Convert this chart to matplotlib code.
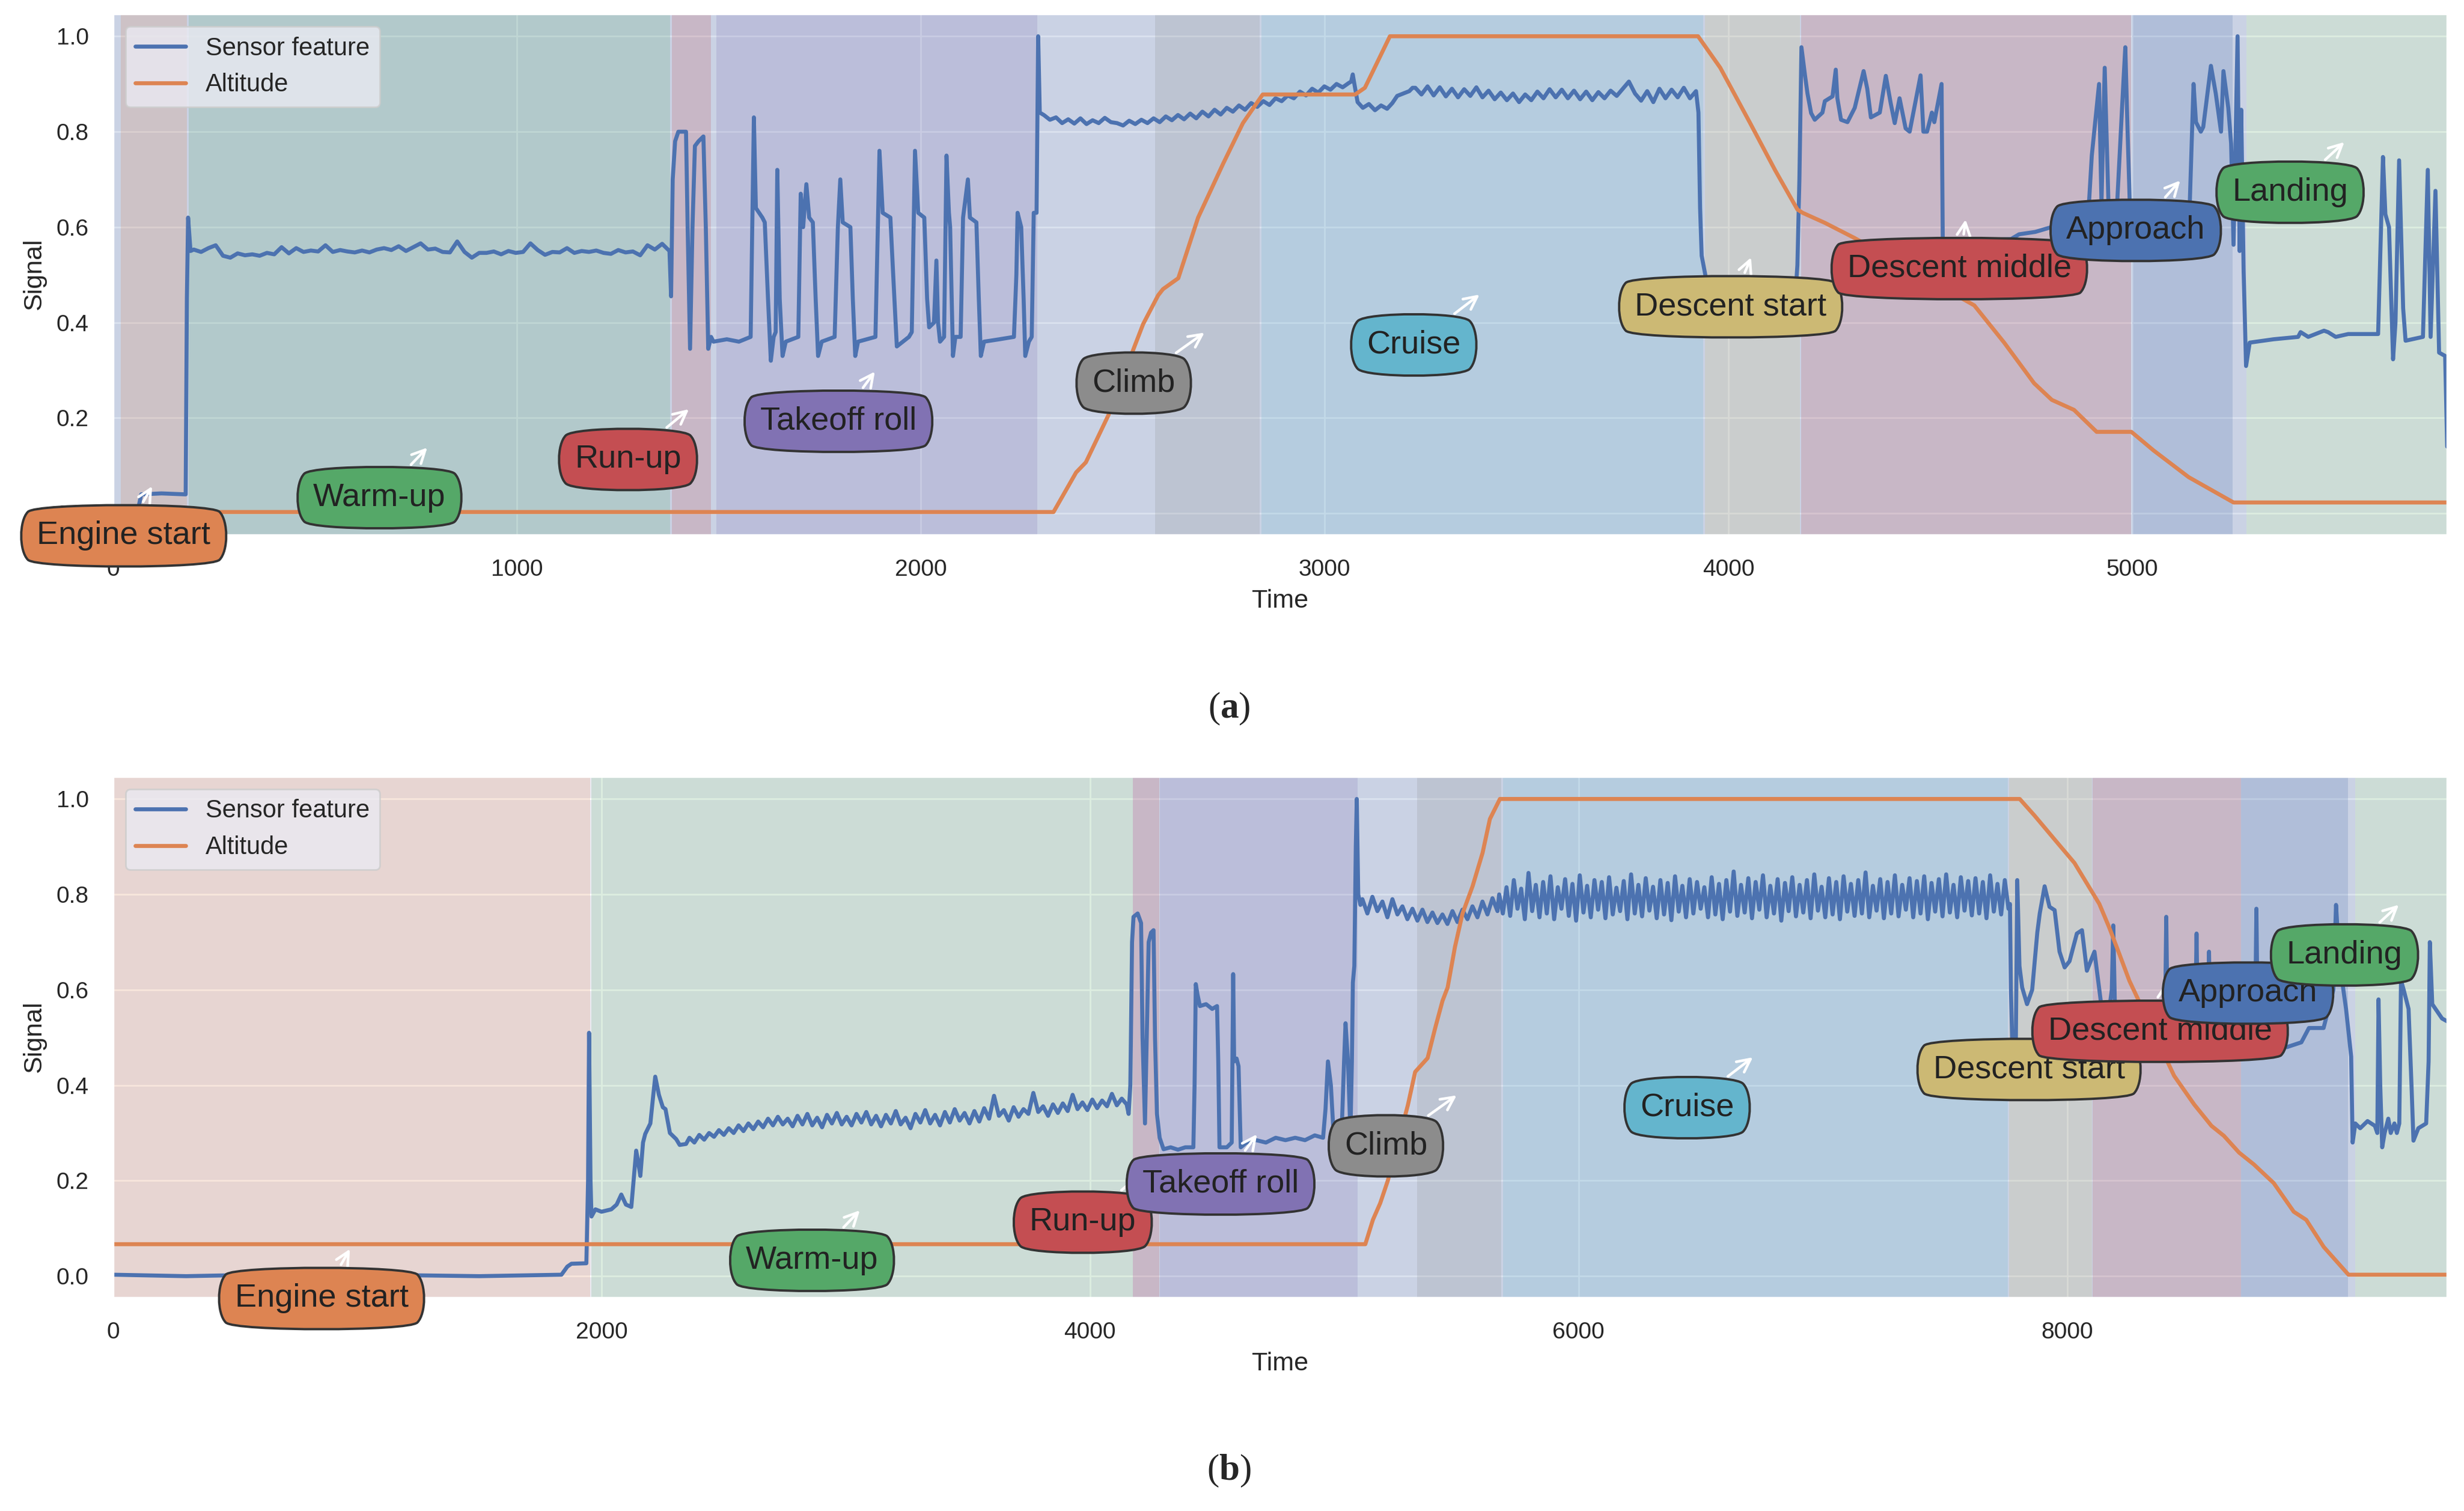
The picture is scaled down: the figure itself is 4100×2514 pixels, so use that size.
import numpy as np
import matplotlib
matplotlib.use('Agg')
import matplotlib.pyplot as plt
import seaborn as sns

##########################################################
#                       Style                            #
##########################################################

sns.set_theme(style='darkgrid')
plt.rcParams['font.family'] = ['Liberation Sans', 'DejaVu Sans']
plt.rcParams['mathtext.fontset'] = 'custom'
plt.rcParams['mathtext.rm'] = 'Liberation Serif'
plt.rcParams['mathtext.bf'] = 'Liberation Serif:bold'

pal = sns.color_palette('deep')

##########################################################
#                   Flight phases                        #
##########################################################

PHASES = ['Engine start', 'Warm-up', 'Run-up', 'Takeoff roll', 'Climb',
          'Cruise', 'Descent start', 'Descent middle', 'Approach', 'Landing']
PHASE_COLORS = [pal[1], pal[2], pal[3], pal[4], pal[7],
                pal[9], pal[8], pal[3], pal[0], pal[2]]

# flight (a)
A_START = [19, 188, 1384, 1494, 2580, 2844, 3942, 4180, 5000, 5283]
A_END = [183, 1380, 1481, 2289, 2839, 3937, 4177, 4997, 5249, 5780]
A_BASE = [0, 5283]
A_XMAX = 5780

# flight (b)
B_START = [0, 1958, 4176, 4287, 5340, 5691, 7763, 8105, 8713, 9180]
B_END = [1954, 4176, 4284, 5096, 5684, 7758, 8103, 8711, 9151, 9556]
B_BASE = [4176, 9180]
B_XMAX = 9556

##########################################################
#                 Sensor feature (a)                     #
##########################################################

a_pre = [(0, 0.0), (60, 0.0), (70, 0.04), (120, 0.042), (180, 0.04),
         (183, 0.45), (186, 0.62), (192, 0.55)]

# warm-up, t 200 -> 1378
a_warm = [0.553, 0.548, 0.556, 0.562, 0.540, 0.536, 0.545, 0.541, 0.543, 0.540,
          0.546, 0.543, 0.558, 0.545, 0.556, 0.548, 0.551, 0.549, 0.562, 0.548,
          0.552, 0.549, 0.547, 0.551, 0.547, 0.553, 0.556, 0.552, 0.560, 0.550,
          0.558, 0.566, 0.553, 0.555, 0.548, 0.547, 0.570, 0.548, 0.536, 0.546,
          0.546, 0.549, 0.543, 0.550, 0.546, 0.548, 0.566, 0.552, 0.542, 0.548,
          0.547, 0.556, 0.546, 0.550, 0.548, 0.551, 0.546, 0.544, 0.552, 0.547,
          0.549, 0.541, 0.562, 0.553, 0.565, 0.550]

a_takeoff = [(1382, 0.455), (1386, 0.70), (1392, 0.78), (1400, 0.80), (1419, 0.80),
             (1423, 0.60), (1429, 0.345), (1435, 0.60), (1441, 0.77), (1450, 0.78),
             (1462, 0.79), (1468, 0.60), (1474, 0.345), (1481, 0.37), (1487, 0.36),
             (1520, 0.365), (1550, 0.36), (1579, 0.37), (1587, 0.83), (1592, 0.64),
             (1608, 0.62), (1614, 0.61), (1622, 0.45), (1629, 0.32), (1636, 0.37),
             (1641, 0.38), (1645, 0.72), (1651, 0.45), (1658, 0.33), (1666, 0.36),
             (1697, 0.37), (1703, 0.67), (1709, 0.60), (1717, 0.69), (1724, 0.62),
             (1733, 0.61), (1740, 0.45), (1746, 0.33), (1755, 0.36), (1787, 0.37),
             (1795, 0.60), (1801, 0.70), (1807, 0.61), (1826, 0.60), (1832, 0.45),
             (1838, 0.33), (1845, 0.36), (1888, 0.37), (1894, 0.60), (1898, 0.76),
             (1906, 0.63), (1925, 0.62), (1932, 0.50), (1941, 0.35), (1971, 0.37),
             (1978, 0.38), (1986, 0.76), (1994, 0.63), (2009, 0.62), (2016, 0.45),
             (2021, 0.39), (2033, 0.40), (2039, 0.53), (2043, 0.40), (2048, 0.36),
             (2058, 0.37), (2064, 0.75), (2070, 0.63), (2073, 0.60), (2080, 0.33),
             (2086, 0.37), (2099, 0.37), (2105, 0.62), (2117, 0.70), (2122, 0.62),
             (2138, 0.61), (2144, 0.45), (2149, 0.33), (2157, 0.36), (2195, 0.365),
             (2231, 0.37), (2237, 0.50), (2240, 0.63), (2249, 0.60), (2255, 0.45),
             (2259, 0.33), (2268, 0.36), (2275, 0.37), (2280, 0.63), (2287, 0.63),
             (2291, 1.0), (2295, 0.84)]

# taxi / climb, t 2305 -> 3060
a_climb = [0.835, 0.825, 0.830, 0.818, 0.826, 0.817, 0.828, 0.816, 0.824, 0.818,
           0.829, 0.820, 0.818, 0.813, 0.823, 0.816, 0.825, 0.818, 0.828, 0.820,
           0.832, 0.824, 0.835, 0.826, 0.838, 0.828, 0.842, 0.832, 0.846, 0.836,
           0.850, 0.842, 0.855, 0.846, 0.860, 0.852, 0.864, 0.856, 0.870, 0.864,
           0.876, 0.870, 0.884, 0.876, 0.890, 0.882, 0.895, 0.888, 0.900, 0.893,
           0.902]

a_level = [(3066, 0.905), (3070, 0.92), (3074, 0.90), (3082, 0.862), (3095, 0.85),
           (3110, 0.858), (3125, 0.845), (3140, 0.855), (3155, 0.848), (3168, 0.86),
           (3180, 0.875), (3195, 0.88), (3210, 0.885), (3218, 0.892)]

# cruise, t 3225 -> 3920
a_cruise = [0.892, 0.878, 0.895, 0.876, 0.893, 0.874, 0.890, 0.872, 0.889, 0.875,
            0.893, 0.872, 0.886, 0.868, 0.882, 0.866, 0.880, 0.862, 0.878, 0.866,
            0.884, 0.870, 0.889, 0.872, 0.888, 0.870, 0.886, 0.868, 0.884, 0.866,
            0.883, 0.870, 0.886, 0.875, 0.890, 0.905, 0.880, 0.865, 0.885, 0.862,
            0.890, 0.870, 0.888, 0.872, 0.892, 0.870, 0.885]

a_descent = [(3926, 0.84), (3930, 0.64), (3934, 0.54), (3943, 0.50), (3950, 0.45),
             (4100, 0.45), (4167, 0.47), (4171, 0.52), (4176, 0.70), (4181, 0.977),
             (4190, 0.917), (4196, 0.88), (4205, 0.839), (4214, 0.825), (4233, 0.84),
             (4239, 0.864), (4258, 0.874), (4266, 0.93), (4270, 0.87), (4279, 0.825),
             (4295, 0.82), (4313, 0.85), (4335, 0.927), (4344, 0.89), (4353, 0.83),
             (4375, 0.84), (4390, 0.917), (4402, 0.86), (4412, 0.818), (4424, 0.87),
             (4439, 0.807), (4449, 0.80), (4476, 0.918), (4483, 0.80), (4492, 0.80),
             (4504, 0.84), (4510, 0.82), (4528, 0.90), (4531, 0.57), (4700, 0.575),
             (4720, 0.585), (4760, 0.59), (4800, 0.60), (4880, 0.60), (4893, 0.65),
             (4900, 0.75), (4918, 0.90), (4924, 0.65), (4932, 0.934), (4942, 0.627),
             (4961, 0.62), (4978, 0.90), (4983, 0.977), (4989, 0.79), (4994, 0.65),
             (4998, 0.57), (5020, 0.56), (5140, 0.58), (5152, 0.90), (5158, 0.82),
             (5170, 0.80), (5176, 0.81), (5195, 0.938), (5207, 0.88), (5220, 0.80),
             (5226, 0.927), (5238, 0.85), (5245, 0.775), (5251, 0.563), (5261, 1.0),
             (5266, 0.55), (5270, 0.846), (5276, 0.507), (5282, 0.309), (5291, 0.358),
             (5350, 0.365), (5411, 0.37), (5417, 0.38), (5436, 0.37), (5475, 0.383),
             (5485, 0.38), (5504, 0.37), (5535, 0.376), (5609, 0.376), (5621, 0.747),
             (5627, 0.627), (5636, 0.60), (5646, 0.323), (5652, 0.40), (5661, 0.74),
             (5671, 0.43), (5677, 0.362), (5720, 0.37), (5732, 0.72), (5739, 0.37),
             (5751, 0.676), (5760, 0.337), (5775, 0.33), (5780, 0.14)]

a_altitude = [(0, 0.003), (2329, 0.003), (2385, 0.086), (2409, 0.107), (2465, 0.206),
              (2530, 0.351), (2551, 0.397), (2588, 0.457), (2600, 0.47), (2638, 0.493),
              (2687, 0.62), (2749, 0.733), (2798, 0.818), (2847, 0.878), (3076, 0.878),
              (3100, 0.892), (3162, 1.0), (3925, 1.0), (3980, 0.934), (4054, 0.818),
              (4116, 0.719), (4171, 0.637), (4184, 0.63), (4239, 0.609), (4313, 0.577),
              (4609, 0.436), (4683, 0.358), (4757, 0.273), (4801, 0.238), (4856, 0.217),
              (4912, 0.171), (4998, 0.171), (5053, 0.132), (5140, 0.076), (5251, 0.023),
              (5780, 0.023)]

##########################################################
#                 Sensor feature (b)                     #
##########################################################

b_pre = [(0, 0.003), (300, 0.0), (600, 0.003), (900, 0.0), (1200, 0.002), (1500, 0.0),
         (1836, 0.003), (1860, 0.02), (1877, 0.026), (1938, 0.027), (1945, 0.2),
         (1949, 0.51), (1955, 0.2), (1959, 0.125), (1975, 0.14), (2000, 0.135),
         (2040, 0.14), (2062, 0.15), (2081, 0.171), (2100, 0.15), (2122, 0.145),
         (2142, 0.263), (2150, 0.24), (2159, 0.21), (2170, 0.28), (2179, 0.298),
         (2200, 0.32), (2212, 0.38), (2220, 0.418), (2235, 0.38), (2251, 0.354),
         (2262, 0.35), (2280, 0.30), (2306, 0.287), (2320, 0.275), (2346, 0.277)]

# warm-up, t 2360 -> 4150
b_warm = [0.290, 0.280, 0.296, 0.286, 0.300, 0.292, 0.306, 0.296, 0.310, 0.300,
          0.316, 0.304, 0.320, 0.308, 0.324, 0.312, 0.330, 0.316, 0.334, 0.318,
          0.330, 0.314, 0.336, 0.318, 0.340, 0.316, 0.332, 0.312, 0.338, 0.320,
          0.342, 0.318, 0.334, 0.316, 0.340, 0.322, 0.344, 0.318, 0.336, 0.314,
          0.338, 0.320, 0.346, 0.318, 0.332, 0.310, 0.340, 0.322, 0.348, 0.320,
          0.338, 0.316, 0.344, 0.322, 0.350, 0.326, 0.342, 0.320, 0.346, 0.324,
          0.352, 0.330, 0.378, 0.336, 0.348, 0.326, 0.354, 0.334, 0.350, 0.340,
          0.384, 0.344, 0.356, 0.336, 0.360, 0.342, 0.362, 0.346, 0.380, 0.350,
          0.364, 0.348, 0.370, 0.352, 0.368, 0.356, 0.382, 0.358, 0.372, 0.360]

b_takeoff = [(4158, 0.34), (4165, 0.40), (4172, 0.70), (4178, 0.753), (4195, 0.76),
             (4209, 0.74), (4215, 0.50), (4225, 0.32), (4232, 0.50), (4240, 0.70),
             (4250, 0.72), (4260, 0.725), (4266, 0.50), (4274, 0.34), (4285, 0.29),
             (4301, 0.266), (4330, 0.27), (4360, 0.265), (4390, 0.27), (4423, 0.27),
             (4428, 0.40), (4433, 0.612), (4440, 0.59), (4450, 0.566), (4475, 0.57),
             (4500, 0.56), (4520, 0.566), (4525, 0.45), (4530, 0.27), (4560, 0.27),
             (4580, 0.28), (4586, 0.633), (4590, 0.45), (4600, 0.456), (4608, 0.44),
             (4617, 0.27), (4640, 0.28), (4680, 0.285), (4720, 0.28), (4760, 0.29),
             (4800, 0.285), (4840, 0.29), (4880, 0.285), (4920, 0.295), (4954, 0.29),
             (4964, 0.35), (4974, 0.45), (4986, 0.40), (4998, 0.29), (5030, 0.30),
             (5040, 0.45), (5046, 0.53), (5056, 0.45), (5066, 0.30), (5072, 0.45),
             (5076, 0.615), (5082, 0.65), (5088, 0.90), (5092, 1.0), (5098, 0.80),
             (5107, 0.778)]

# taxi / climb, t 5115 -> 5668
b_climb = [0.790, 0.760, 0.795, 0.765, 0.785, 0.752, 0.790, 0.758, 0.775, 0.748,
           0.770, 0.745, 0.768, 0.742, 0.762, 0.740, 0.758, 0.738, 0.765, 0.742,
           0.768, 0.748, 0.775, 0.752, 0.785, 0.758, 0.792, 0.765]

# cruise, t 5675 -> 7760
b_cruise = [0.800, 0.760, 0.815, 0.755, 0.830, 0.770, 0.812, 0.748, 0.845, 0.765,
            0.820, 0.752, 0.826, 0.760, 0.838, 0.748, 0.815, 0.770, 0.832, 0.755,
            0.822, 0.745, 0.840, 0.762, 0.818, 0.752, 0.830, 0.768, 0.826, 0.750,
            0.836, 0.758, 0.814, 0.765, 0.828, 0.748, 0.842, 0.760, 0.820, 0.754,
            0.834, 0.766, 0.816, 0.750, 0.830, 0.758, 0.824, 0.746, 0.838, 0.764,
            0.818, 0.752, 0.832, 0.760, 0.826, 0.770, 0.815, 0.752, 0.836, 0.758,
            0.822, 0.748, 0.830, 0.764, 0.848, 0.755, 0.820, 0.762, 0.834, 0.750,
            0.826, 0.768, 0.840, 0.752, 0.818, 0.760, 0.832, 0.745, 0.824, 0.765,
            0.836, 0.754, 0.820, 0.762, 0.830, 0.750, 0.842, 0.766, 0.816, 0.752,
            0.834, 0.758, 0.826, 0.748, 0.838, 0.764, 0.822, 0.755, 0.830, 0.760,
            0.846, 0.752, 0.818, 0.766, 0.832, 0.750, 0.826, 0.760, 0.840, 0.754,
            0.820, 0.768, 0.834, 0.752, 0.828, 0.760, 0.838, 0.748, 0.824, 0.764,
            0.832, 0.754, 0.842, 0.762, 0.820, 0.752, 0.836, 0.766, 0.828, 0.756,
            0.834, 0.760, 0.826, 0.750, 0.840, 0.764, 0.822, 0.758, 0.830, 0.770]

b_descent = [(7766, 0.78), (7770, 0.60), (7775, 0.50), (7790, 0.48), (7796, 0.83),
             (7805, 0.65), (7816, 0.605), (7836, 0.57), (7857, 0.60), (7878, 0.72),
             (7888, 0.76), (7908, 0.817), (7928, 0.774), (7949, 0.767), (7969, 0.68),
             (7990, 0.647), (8010, 0.66), (8040, 0.718), (8061, 0.725), (8081, 0.64),
             (8112, 0.68), (8132, 0.60), (8142, 0.56), (8170, 0.55), (8183, 0.60),
             (8189, 0.735), (8196, 0.56), (8230, 0.52), (8300, 0.50), (8400, 0.50),
             (8406, 0.753), (8412, 0.50), (8524, 0.50), (8530, 0.718), (8536, 0.50),
             (8575, 0.50), (8581, 0.68), (8587, 0.50), (8700, 0.50), (8769, 0.50),
             (8775, 0.77), (8781, 0.50), (8900, 0.48), (8959, 0.49), (8990, 0.52),
             (9050, 0.52), (9070, 0.56), (9090, 0.60), (9101, 0.778), (9110, 0.70),
             (9122, 0.633), (9142, 0.56), (9163, 0.46), (9169, 0.28), (9180, 0.32),
             (9200, 0.31), (9230, 0.325), (9260, 0.315), (9270, 0.30), (9275, 0.58),
             (9282, 0.40), (9290, 0.27), (9300, 0.30), (9315, 0.33), (9325, 0.30),
             (9340, 0.32), (9350, 0.30), (9360, 0.32), (9367, 0.62), (9378, 0.60),
             (9398, 0.56), (9410, 0.40), (9418, 0.284), (9438, 0.31), (9470, 0.32),
             (9480, 0.45), (9485, 0.70), (9495, 0.57), (9515, 0.555), (9535, 0.54),
             (9556, 0.534)]

b_altitude = [(0, 0.067), (5127, 0.067), (5158, 0.118), (5188, 0.153), (5219, 0.20),
              (5301, 0.358), (5331, 0.428), (5352, 0.44), (5382, 0.457), (5413, 0.52),
              (5443, 0.577), (5464, 0.605), (5494, 0.69), (5525, 0.76), (5566, 0.817),
              (5607, 0.887), (5637, 0.958), (5678, 1.0), (7806, 1.0), (7867, 0.965),
              (7949, 0.915), (8030, 0.866), (8132, 0.78), (8173, 0.73), (8214, 0.675),
              (8255, 0.619), (8438, 0.42), (8520, 0.36), (8591, 0.315), (8642, 0.294),
              (8704, 0.259), (8765, 0.234), (8846, 0.195), (8928, 0.135), (8979, 0.118),
              (9051, 0.061), (9152, 0.003), (9556, 0.003)]

##########################################################
#                     Helpers                            #
##########################################################

def pairs(points):
    '''Splits a list of (time, value) pairs into two arrays.'''
    t, v = zip(*points)
    return list(t), list(v)


def sampled(values, t0, t1):
    '''Places read-off values evenly between t0 and t1.'''
    return list(np.linspace(t0, t1, len(values))), list(values)


def build_series(parts):
    '''Joins the pieces of a series in time order.'''
    t_all, v_all = [], []
    for t, v in parts:
        t_all += t
        v_all += v
    return t_all, v_all


sensor_a = build_series([pairs(a_pre), sampled(a_warm, 200, 1378), pairs(a_takeoff),
                         sampled(a_climb, 2305, 3060), pairs(a_level),
                         sampled(a_cruise, 3225, 3920), pairs(a_descent)])
sensor_b = build_series([pairs(b_pre), sampled(b_warm, 2360, 4150), pairs(b_takeoff),
                         sampled(b_climb, 5115, 5668), sampled(b_cruise, 5675, 7760),
                         pairs(b_descent)])

# box placement for the phase labels (points, box centre left of / below the arrow tip)
BOX_DX = [18, 30, 38, 23, 44, 41, 13, 4, 28, 34]
BOX_Y = [-0.047 + 0.08 * i for i in range(len(PHASES))]
ARROW_RISE = 0.11
ARROW_DY_PT = 31.4


def plot_flight(ax, sensor, altitude, starts, ends, base, xmax, xticks):
    '''Draws one flight with its phase spans and labels.'''

    ax.axvspan(base[0], base[1], color=pal[0], alpha=0.2, lw=0)
    for s, e, c in zip(starts, ends, PHASE_COLORS):
        ax.axvspan(s, e, color=c, alpha=0.2, lw=0)

    ax.plot(sensor[0], sensor[1], color=pal[0], lw=2.4, label='Sensor feature')
    alt_t, alt_v = pairs(altitude)
    ax.plot(alt_t, alt_v, color=pal[1], lw=2.4, label='Altitude')

    for i, name in enumerate(PHASES):
        mid = (starts[i] + ends[i]) / 2
        ax.annotate(name, xy=(mid, BOX_Y[i] + ARROW_RISE),
                    xytext=(-BOX_DX[i], -ARROW_DY_PT), textcoords='offset points',
                    ha='center', va='center', fontsize=19.5, color='#222222',
                    bbox=dict(boxstyle='round4,pad=0.55', fc=PHASE_COLORS[i],
                              ec='#333333', lw=1.4),
                    arrowprops=dict(arrowstyle='->', color='white', lw=1.6),
                    annotation_clip=False, zorder=5)

    ax.set_xlim(0, xmax)
    ax.set_ylim(-0.045, 1.047)
    ax.set_xticks(xticks)
    ax.set_yticks([0.0, 0.2, 0.4, 0.6, 0.8, 1.0])
    ax.tick_params(labelsize=14, pad=8.5)
    ax.set_xlabel('Time', fontsize=15.5, labelpad=5)
    ax.set_ylabel('Signal', fontsize=15.5, labelpad=6)
    ax.legend(loc='upper left', fontsize=15)


##########################################################
#                       Figure                           #
##########################################################

fig = plt.figure(figsize=(20.5, 12.57), dpi=200)
ax_a = fig.add_axes([0.04585, 0.64598, 0.94732, 0.34487])
ax_b = fig.add_axes([0.04585, 0.14121, 0.94732, 0.34487])

plot_flight(ax_a, sensor_a, a_altitude, A_START, A_END, A_BASE, A_XMAX,
            [0, 1000, 2000, 3000, 4000, 5000])
plot_flight(ax_b, sensor_b, b_altitude, B_START, B_END, B_BASE, B_XMAX,
            [0, 2000, 4000, 6000, 8000])

fig.text(0.4988, 0.531, r'($\mathbf{a}$)', ha='center', va='center',
         fontsize=22, family='Liberation Serif')
fig.text(0.4988, 0.0263, r'($\mathbf{b}$)', ha='center', va='center',
         fontsize=22, family='Liberation Serif')

plt.savefig('out.png', dpi=200, facecolor='white')
